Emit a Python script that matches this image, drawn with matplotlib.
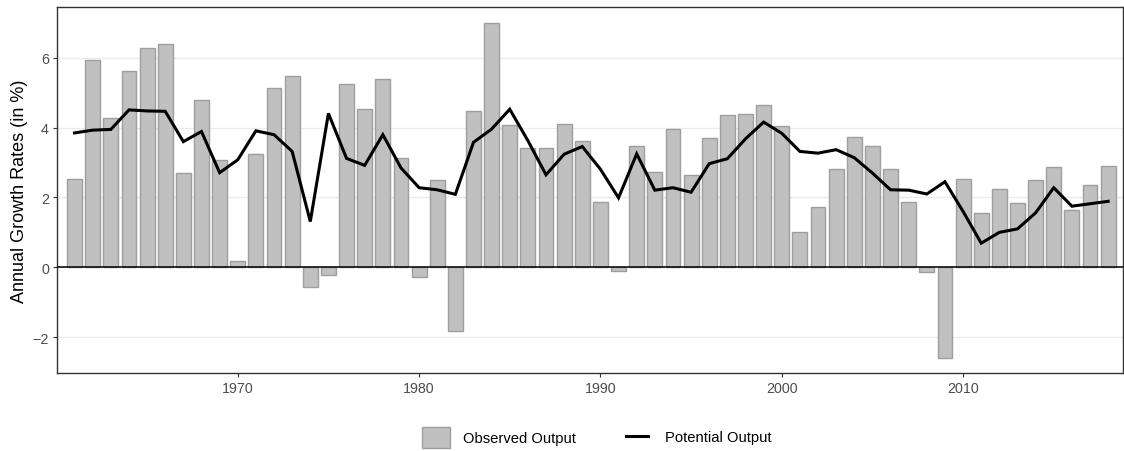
import matplotlib.pyplot as plt
from matplotlib.patches import Patch
from matplotlib.lines import Line2D
import numpy as np

plt.rcParams["font.family"] = ["Liberation Sans", "DejaVu Sans"]

years = list(range(1961, 2019))

observed = [
    2.53, 5.95, 4.28, 5.62, 6.29, 6.39, 2.71, 4.80, 3.08, 0.19,
    3.25, 5.13, 5.49, -0.56, -0.22, 5.24, 4.53, 5.40, 3.12, -0.27,
    2.51, -1.83, 4.48, 6.99, 4.09, 3.41, 3.41, 4.10, 3.61, 1.88,
    -0.12, 3.48, 2.72, 3.95, 2.65, 3.71, 4.36, 4.38, 4.65, 4.06,
    1.00, 1.74, 2.83, 3.74, 3.47, 2.82, 1.86, -0.15, -2.59, 2.54,
    1.55, 2.23, 1.83, 2.50, 2.87, 1.64, 2.35, 2.89,
]

potential = [
    3.85, 3.93, 3.95, 4.51, 4.48, 4.47, 3.60, 3.89, 2.71, 3.08,
    3.91, 3.80, 3.32, 1.31, 4.41, 3.12, 2.92, 3.80, 2.85, 2.28,
    2.22, 2.09, 3.58, 3.96, 4.53, 3.63, 2.65, 3.24, 3.46, 2.81,
    1.99, 3.25, 2.21, 2.28, 2.15, 2.97, 3.11, 3.68, 4.16, 3.84,
    3.32, 3.27, 3.37, 3.14, 2.70, 2.22, 2.21, 2.10, 2.45, 1.60,
    0.69, 1.00, 1.10, 1.56, 2.28, 1.75, 1.82, 1.89,
]

W, H = 1124, 452
fig = plt.figure(figsize=(W / 100, H / 100), dpi=100)
ax = fig.add_axes([0.051, 0.1726, 0.9478, 0.809])

bar_fill = "#c0c0c0"
bar_edge = "#9e9e9e"
ax.bar(years, observed, width=0.82, color=bar_fill, edgecolor=bar_edge,
       linewidth=1.0, zorder=2)
ax.axhline(0, color="black", linewidth=1.1, zorder=3)
ax.plot(years, potential, color="black", linewidth=2.2, zorder=4,
        solid_joinstyle="miter")

ax.set_xlim(1960.05, 2018.8)
ax.set_ylim(-3.03, 7.45)
ax.set_yticks([-2, 0, 2, 4, 6])
ax.set_yticklabels(["\u22122", "0", "2", "4", "6"])
ax.set_xticks([1970, 1980, 1990, 2000, 2010])
ax.grid(axis="y", color="#ebebeb", linewidth=1.0, zorder=0)
ax.set_axisbelow(True)

for s in ax.spines.values():
    s.set_color("#333333")
    s.set_linewidth(1.0)
ax.tick_params(axis="both", colors="#333333", labelcolor="#4d4d4d",
               labelsize=10.3, length=3, width=0.8, pad=3)
ax.set_ylabel("Annual Growth Rates (in %)", fontsize=13, color="black",
              labelpad=3)

# legend, two pieces so the keys can have different sizes
fs = 10.6
fig.legend(
    handles=[Patch(facecolor=bar_fill, edgecolor=bar_edge, linewidth=1.0,
                   label="Observed Output")],
    loc="center left", bbox_to_anchor=(421.7 / W, 1 - 438.3 / H),
    frameon=False, fontsize=fs, handlelength=1.9, handleheight=1.84,
    handletextpad=0.93, borderpad=0, borderaxespad=0)
fig.legend(
    handles=[Line2D([0], [0], color="black", linewidth=2.2,
                    label="Potential Output")],
    loc="center left", bbox_to_anchor=(626 / W, 1 - 438.3 / H),
    frameon=False, fontsize=fs, handlelength=1.5,
    handletextpad=1.16, borderpad=0, borderaxespad=0)

fig.savefig("out.png", dpi=100)
